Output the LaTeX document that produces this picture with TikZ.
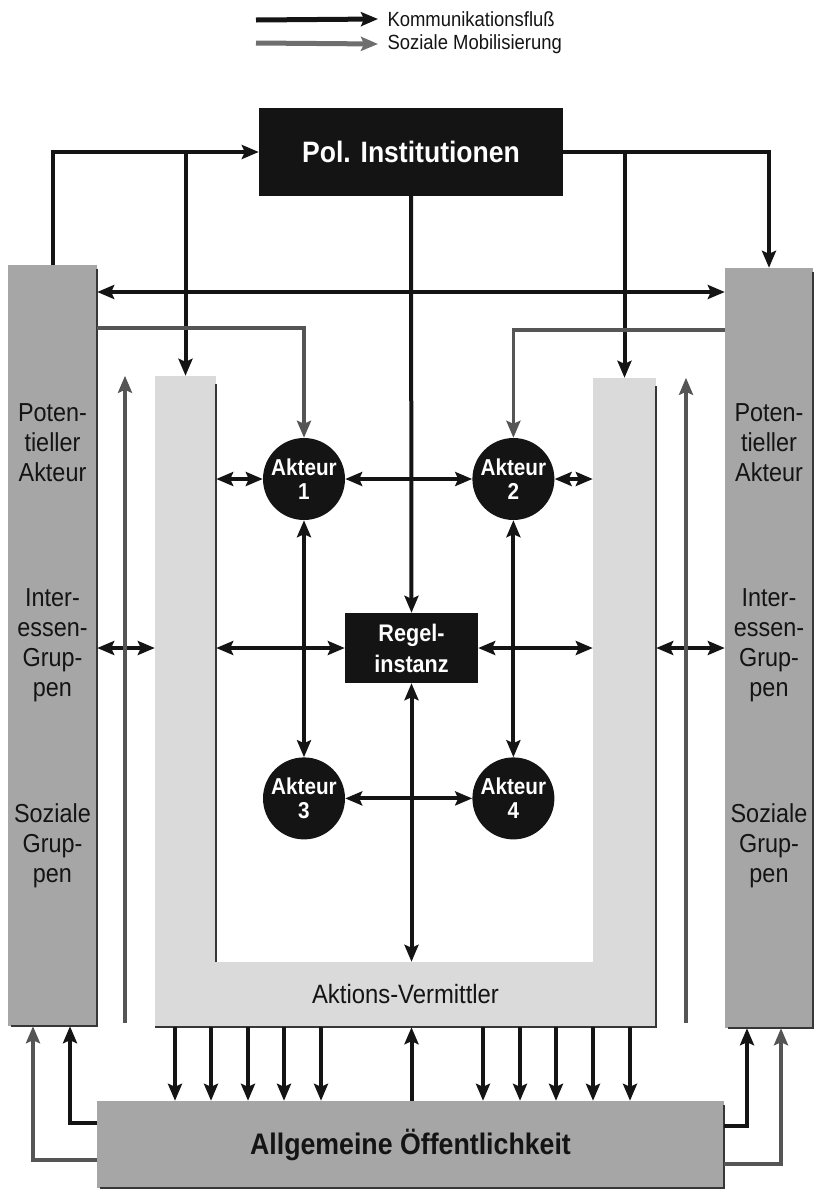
\documentclass[tikz,border=0pt]{standalone}
\usepackage{fontspec}
\setmainfont{Liberation Sans}[FakeStretch=0.9]
\usepackage{tikz}
\usetikzlibrary{arrows.meta, positioning}

\definecolor{colgray}{HTML}{A6A6A6}
\definecolor{framegray}{HTML}{DADADA}
\definecolor{mobgray}{HTML}{555555}
\definecolor{ink}{HTML}{141414}

\begin{document}
\begin{tikzpicture}[x=1pt, y=-1pt,
			blackbox/.style={fill=ink, text=white, inner sep=0pt, align=center},
			akteur/.style={circle, fill=ink, text=white, minimum size=82pt, inner sep=0pt, align=center, font=\fontsize{23}{24}\selectfont\bfseries},
			column/.style={fill=colgray, inner sep=0pt},
			band/.style={fill=framegray, inner sep=0pt},
			coltext/.style={align=center, text=ink, font=\fontsize{26}{30}\selectfont},
			shade/.style={draw=ink!85, line width=2.5pt},
			arrow/.style={-{Stealth[length=17pt, width=14pt, inset=3pt]}, line width=4pt, draw=ink},
			both/.style={{Stealth[length=17pt, width=14pt, inset=3pt]}-{Stealth[length=17pt, width=14pt, inset=3pt]}, line width=4pt, draw=ink},
			mob/.style={-{Stealth[length=17pt, width=14pt, inset=3pt]}, line width=3.6pt, draw=mobgray}]
			
			\useasboundingbox (0,0) rectangle (816,1192);
			
			% Flächen
			\node[column, minimum width=89pt, minimum height=761pt] (colL) at (52.5,645.5) {};
			\node[column, minimum width=88pt, minimum height=760pt] (colR) at (769,648) {};
			\node[band, minimum width=61pt, minimum height=651pt] (frameL) at (185.5,701.5) {};
			\node[band, minimum width=63pt, minimum height=649pt] (frameR) at (624.5,702.5) {};
			\node[band, minimum width=501pt, minimum height=65pt, text=ink, font=\fontsize{26.5}{30}\selectfont] (frameB) at (405.5,994.5) {Aktions-Vermittler};
			\node[column, minimum width=627pt, minimum height=87pt, text=ink, font=\fontsize{29.7}{32}\selectfont\bfseries] (oeff) at (410.5,1144.5) {Allgemeine Öffentlichkeit};
			
			% Schatten
			\draw[shade] ([yshift=-4pt]colL.north east) -- (colL.south east) -- ([xshift=3pt]colL.south west);
			\draw[shade] ([yshift=-4pt]colR.north east) -- (colR.south east) -- ([xshift=3pt]colR.south west);
			\draw[shade] ([yshift=-8pt]frameL.north east) -- (frameL.east |- frameB.north);
			\draw[shade] ([yshift=-8pt]frameR.north east) -- (frameR.south east) -- (frameL.south west);
			\draw[shade] ([yshift=-4pt]oeff.north east) -- (oeff.south east) -- ([xshift=3pt]oeff.south west);
			
			% Knoten
			\node[blackbox, minimum width=304pt, minimum height=88pt, font=\fontsize{29.5}{30}\selectfont\bfseries] (pol) at (411,152) {Pol. Institutionen};
			\node[blackbox, minimum width=133pt, minimum height=70pt, font=\fontsize{24}{31}\selectfont\bfseries] (regel) at (411.5,648) {Regel-\\instanz};
			\node[akteur] (akt1) at (304,479) {Akteur\\1};
			\node[akteur, right=127pt of akt1] (akt2) {Akteur\\2};
			\node[akteur, below=237pt of akt1] (akt3) {Akteur\\3};
			\node[akteur, right=127pt of akt3] (akt4) {Akteur\\4};
			
			\node[coltext] (potL) at (52.5,443) {Poten-\\tieller\\Akteur};
			\node[coltext] (intL) at (52.5,645) {Inter-\\essen-\\Grup-\\pen};
			\node[coltext] (sozL) at (52.5,846) {Soziale\\Grup-\\pen};
			\node[coltext] (potR) at (769,443) {Poten-\\tieller\\Akteur};
			\node[coltext] (intR) at (769,645) {Inter-\\essen-\\Grup-\\pen};
			\node[coltext] (sozR) at (769,846) {Soziale\\Grup-\\pen};
			
			% Legende
			\node[anchor=west, text=ink, font=\fontsize{20.5}{22}\selectfont] (kom) at (384,19) {Kommunikationsfluß};
			\node[anchor=west, text=ink, font=\fontsize{20.5}{22}\selectfont] (soz) at (384,44) {Soziale Mobilisierung};
			\coordinate (legA) at (256,20);
			\coordinate (legB) at (256,43);
			\draw[arrow, line width=5pt] (legA) -- ([xshift=-6pt]kom.west);
			\draw[arrow, line width=5pt, draw=mobgray!85] (legB) -- ([xshift=-6pt]soz.west);
			
			% Hilfspunkte
			\coordinate (bus) at (0,292);
			\coordinate (mobL) at (0,328);
			\coordinate (mobR) at (0,330);
			\coordinate (upL) at (125,1023);
			\coordinate (upR) at (686,1023);
			\coordinate (fbL1) at (70,1123);
			\coordinate (fbL2) at (33,1160);
			\coordinate (fbR1) at (747,1126);
			\coordinate (fbR2) at (781,1164);
			
			% Kommunikationsfluss
			\draw[arrow] (colL.north) |- (pol.west);
			\draw[arrow] (frameL.north |- pol.west) -- (frameL.north);
			\draw[arrow] (pol.east) -| (colR.north);
			\draw[arrow] (frameR.north |- pol.east) -- (frameR.north);
			\draw[arrow] (pol.south) -- (regel.north);
			\draw[both] (colL.east |- bus) -- (colR.west |- bus);
			
			\draw[both] (akt1.west -| frameL.east) -- (akt1.west);
			\draw[both] (akt1) -- (akt2);
			\draw[both] (akt2.east) -- (akt2.east -| frameR.west);
			\draw[both] (akt1) -- (akt3);
			\draw[both] (akt2) -- (akt4);
			\draw[both] (akt3) -- (akt4);
			\draw[both] (regel.west -| frameL.east) -- (regel.west);
			\draw[both] (regel.east) -- (regel.east -| frameR.west);
			\draw[both] (regel.south) -- (regel.south |- frameB.north);
			\draw[both] (colL.east |- regel.west) -- (frameL.west |- regel.west);
			\draw[both] (frameR.east |- regel.east) -- (colR.west |- regel.east);
			
			\foreach \x in {175,211,248,284,321,483,520,556,593,630} {
				\coordinate (dn) at (\x,0);
				\draw[arrow] (dn |- frameB.south) -- (dn |- oeff.north);
			}
			\draw[arrow] (oeff.north -| regel.south) -- (frameB.south -| regel.south);
			\draw[arrow] (oeff.west |- fbL1) -| (colL.south -| fbL1);
			\draw[arrow] (oeff.east |- fbR1) -| (colR.south -| fbR1);
			
			% Soziale Mobilisierung
			\draw[mob] (colL.east |- mobL) -| (akt1.north);
			\draw[mob] (colR.west |- mobR) -| (akt2.north);
			\draw[mob] (upL) -- (upL |- frameL.north);
			\draw[mob] (upR) -- (upR |- frameR.north);
			\draw[mob] (oeff.west |- fbL2) -| (colL.south -| fbL2);
			\draw[mob] (oeff.east |- fbR2) -| (colR.south -| fbR2);
			
		\end{tikzpicture}
\end{document}
